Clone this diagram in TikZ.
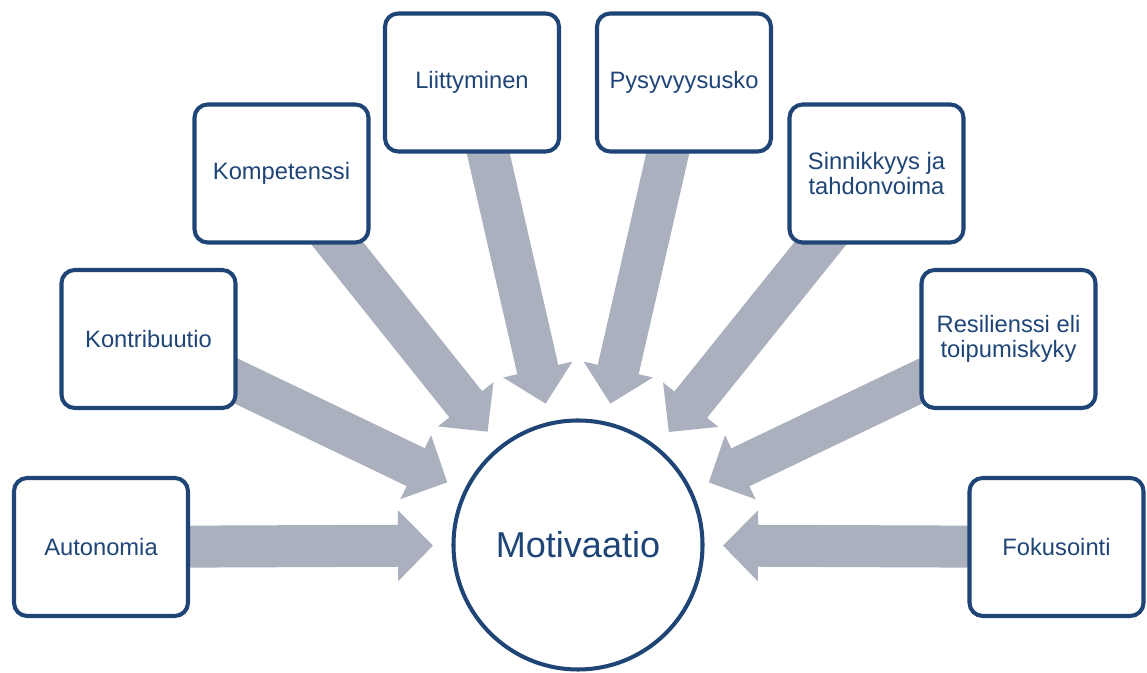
\documentclass[tikz,border=0pt]{standalone}
\usepackage{fontspec}
\setmainfont{Liberation Sans}
\usetikzlibrary{positioning, calc, backgrounds}
\definecolor{navy}{RGB}{31,69,118}
\definecolor{flowgray}{RGB}{170,176,190}
\tikzset{B/.style={draw=navy, line width=2.3pt, rounded corners=7.5pt, fill=white, text=navy, minimum width=3.48cm, minimum height=2.76cm, align=center, font=\fontsize{13.5}{14.5}\selectfont}}
\tikzset{C/.style={draw=navy, line width=2.3pt, circle, fill=white, text=navy, minimum size=4.98cm, font=\fontsize{20.5}{24}\selectfont}}
\newcommand{\flow}[1]{%
  \path ($(M.center)!2.9cm!(#1.center)$) coordinate (t)
        ($(t)!0.7cm!(#1.center)$) coordinate (h);
  \fill[flowgray] (t) -- ($(h)!0.71cm!90:(#1.center)$) -- ($(h)!0.42cm!90:(#1.center)$)
    -- ($(#1.center)!0.42cm!-90:(h)$) -- ($(#1.center)!0.42cm!90:(h)$)
    -- ($(h)!0.42cm!-90:(#1.center)$) -- ($(h)!0.71cm!-90:(#1.center)$) -- cycle;}

\begin{document}
\begin{tikzpicture}
\useasboundingbox (0,0) rectangle (22.94,13.46);
\node (M) [C] at (11.56,2.56) {Motivaatio};
\node (A1) [B] at (2.02,2.52) {Autonomia};
\node (A2) [B] at (2.97,6.68) {Kontribuutio};
\node (A3) [B] at (5.63,9.99) {Kompetenssi};
\node (A4) [B] at (9.44,11.81) {Liittyminen};
\node (A5) [B] at (13.68,11.81) {Pysyvyysusko};
\node (A6) [B] at (17.53,9.99) {Sinnikkyys ja\\tahdonvoima};
\node (A7) [B] at (20.17,6.68) {Resilienssi eli\\toipumiskyky};
\node (A8) [B] at (21.13,2.52) {Fokusointi};
%
\begin{pgfonlayer}{background}
\foreach \n in {A1,A2,A3,A4,A5,A6,A7,A8} {\flow{\n}}
\end{pgfonlayer}
\end{tikzpicture}
\end{document}
